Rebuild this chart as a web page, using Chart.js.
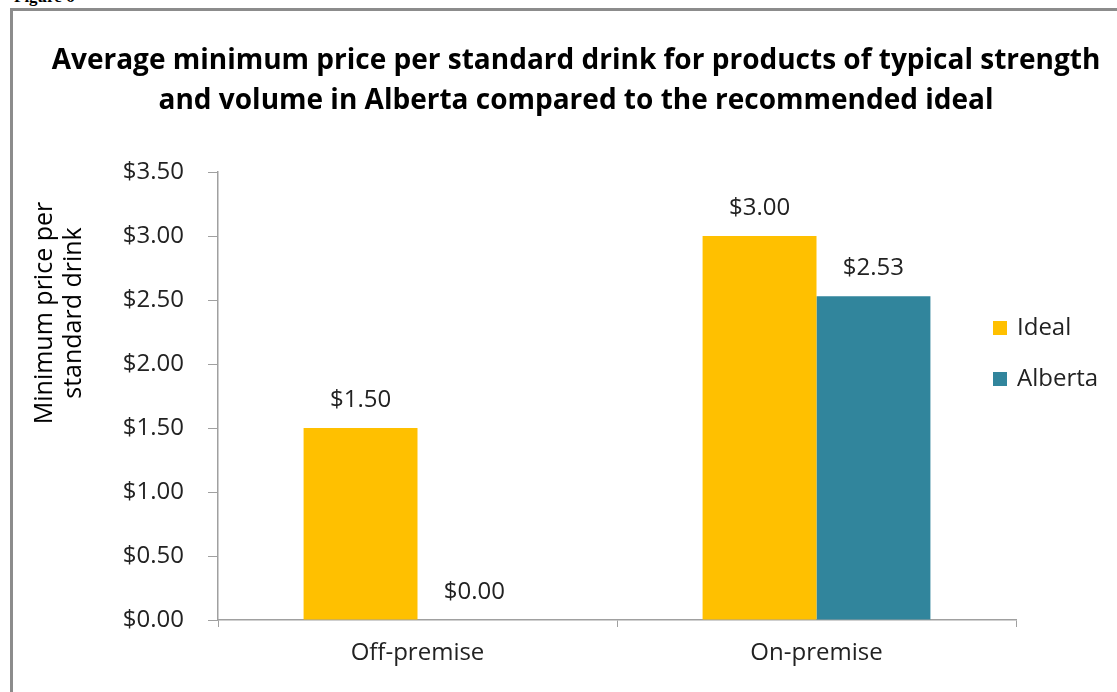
<!DOCTYPE html>
<html>
<head>
<meta charset="utf-8">
<script src="https://cdn.jsdelivr.net/npm/chart.js@4.4.1/dist/chart.umd.min.js"></script>
<style>
  html, body { margin: 0; padding: 0; background: #fff; overflow: hidden; }
  #fig { position: absolute; left: 14px; top: -13px; font: bold 17px "Liberation Serif", serif; color: #000; }
  #frame { position: absolute; left: 10px; top: 8px; width: 1120px; height: 700px; border: 3px solid #8c8c8c; box-sizing: border-box; }
  #wrap { position: absolute; left: 0; top: 0; width: 1117px; height: 692px; }
  #title { position: absolute; left: 0; width: 1152px; top: 38px; text-align: center;
           font: bold 28px/40px "Open Sans", sans-serif; color: #000; white-space: nowrap; }
  #ytitle { position: absolute; left: 57px; top: 313px; width: 300px; text-align: center;
            font: 25px/29px "Open Sans", sans-serif; color: #000; white-space: nowrap;
            transform: translate(-50%, -50%) rotate(-90deg); }
</style>
</head>
<body>
<div id="fig">Figure 6</div>
<div id="frame"></div>
<div id="wrap"><canvas id="ch"></canvas></div>
<div id="title"></div>
<div id="ytitle"></div>
<script>
const categories = ['Off-premise', 'On-premise'];
const seriesNames = ['Ideal', 'Alberta'];
const idealValues = [1.50, 3.00];
const albertaValues = [0.00, 2.53];
const seriesColors = ['#FFC000', '#31859C'];
const titleLines = [
    'Average minimum price per standard drink for products of typical strength',
    'and volume in Alberta compared to the recommended ideal'
];
const yTitle = ['Minimum price per', 'standard drink'];

const FONT = '"Open Sans", sans-serif';
const money = (v) => '$' + Number(v).toFixed(2);

document.getElementById('title').innerHTML = titleLines.join('<br>');
document.getElementById('ytitle').innerHTML = yTitle.join('<br>');

// value labels above bars
let valueLabels = {
    id: 'valueLabels',
    afterDatasetsDraw(chart) {
        let ctx = chart.ctx;
        ctx.save();
        ctx.font = '24px ' + FONT;
        ctx.fillStyle = '#222';
        ctx.textAlign = 'center';
        ctx.textBaseline = 'middle';
        chart.data.datasets.forEach((ds, i) => {
            chart.getDatasetMeta(i).data.forEach((bar, j) => {
                ctx.fillText(money(ds.data[j]), bar.x, bar.y - 28);
            });
        });
        ctx.restore();
    }
};

// legend on the right side, over the plot
let sideLegend = {
    id: 'sideLegend',
    afterDraw(chart) {
        let ctx = chart.ctx;
        ctx.save();
        ctx.font = '24px ' + FONT;
        ctx.textBaseline = 'middle';
        chart.data.datasets.forEach((ds, i) => {
            let y = 328 + i * 51;
            ctx.fillStyle = ds.backgroundColor;
            ctx.fillRect(993, y - 7, 14, 14);
            ctx.fillStyle = '#222';
            ctx.fillText(ds.label, 1017, y);
        });
        ctx.restore();
    }
};

let chart = new Chart('ch', {
    type: 'bar',
    data: {
        labels: categories,
        datasets: [
            { label: seriesNames[0], data: idealValues, backgroundColor: seriesColors[0] },
            { label: seriesNames[1], data: albertaValues, backgroundColor: seriesColors[1] }
        ]
    },
    options: {
        responsive: true,
        maintainAspectRatio: false,
        animation: false,
        datasets: {
            bar: { categoryPercentage: 0.571, barPercentage: 1.0 }
        },
        layout: { padding: { left: 0, right: 101, top: 172, bottom: 0 } },
        plugins: {
            legend: { display: false },
            tooltip: { enabled: false },
            title: { display: false }
        },
        scales: {
            x: {
                grid: { display: true, drawOnChartArea: false, tickLength: 7, color: '#a0a0a0', offset: true },
                border: { color: '#a0a0a0', width: 1.5 },
                ticks: { color: '#222', font: { family: FONT, size: 24 }, padding: 12 },
                afterFit: (s) => { s.height = 72; }
            },
            y: {
                min: 0,
                max: 3.5,
                ticks: {
                    stepSize: 0.5,
                    color: '#222',
                    font: { family: FONT, size: 24 },
                    padding: 24,
                    callback: (v) => money(v)
                },
                grid: { display: true, drawOnChartArea: false, tickLength: 10, color: '#a0a0a0' },
                border: { color: '#a0a0a0', width: 1.5 },
                afterFit: (s) => { s.width = 218; }
            }
        }
    },
    plugins: [valueLabels, sideLegend]
});
</script>
</body>
</html>
